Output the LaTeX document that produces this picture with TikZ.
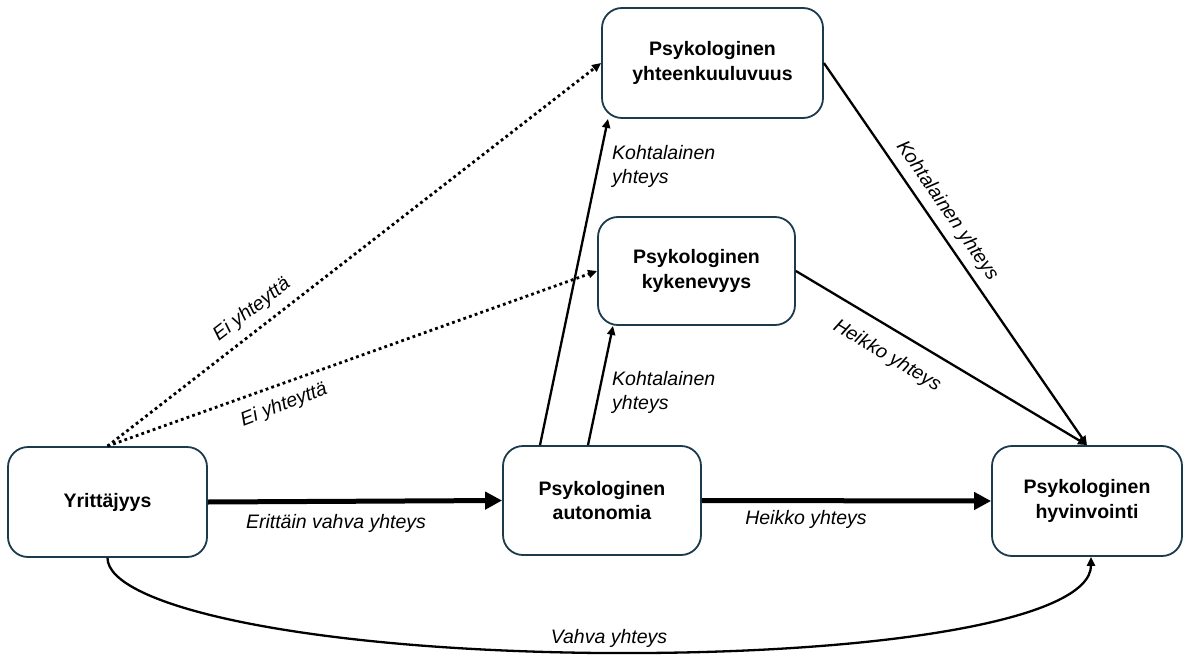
\documentclass[tikz,border=0pt]{standalone}
\usepackage{fontspec}
\setmainfont{Liberation Sans}
\usetikzlibrary{arrows.meta,calc}
\definecolor{boxline}{HTML}{1B3A4B}
\tikzset{
  box/.style={draw=boxline, line width=1.8pt, rounded corners=20pt, fill=white,
    align=center, inner sep=0pt, font=\fontsize{19.5}{24.5}\selectfont\bfseries},
  thickarrow/.style={line width=5pt, -{Triangle[length=17pt,width=17pt]}},
  thinarrow/.style={line width=2.3pt, -{Triangle[length=9pt,width=8pt]}},
  dotarrow/.style={line width=2.8pt, dash pattern=on 2.8pt off 3.2pt, -{Triangle[length=9pt,width=8pt]}},
  lbl/.style={font=\fontsize{19.5}{24}\selectfont\itshape, inner sep=0pt, align=left}
}
\begin{document}
\begin{tikzpicture}[x=1pt,y=-1pt]
\useasboundingbox (0,0) rectangle (1185,655);
% nodes
\node[box, minimum width=199pt, minimum height=110pt] (Y) at (107.5,502) {Yrittäjyys};
\node[box, minimum width=198pt, minimum height=109pt] (A) at (602,500.5) {Psykologinen\\autonomia};
\node[box, minimum width=190pt, minimum height=110pt] (H) at (1087,501) {Psykologinen\\hyvinvointi};
\node[box, minimum width=221pt, minimum height=110pt] (YK) at (712.5,63) {Psykologinen\\yhteenkuuluvuus};
\node[box, minimum width=197pt, minimum height=108pt] (K) at (696.5,271) {Psykologinen\\kykenevyys};
% connectors
\draw[thickarrow] (Y.east) -- (A.west);
\draw[thickarrow] (A.east) -- (H.west);
\draw[thinarrow] ([xshift=-62pt]A.north) -- ([xshift=-104.5pt]YK.south);
\draw[thinarrow] ([xshift=-14pt]A.north) -- ([xshift=-83.5pt]K.south);
\draw[dotarrow] (Y.north) -- (YK.west);
\draw[dotarrow] (Y.north) -- (K.west);
\draw[thinarrow] (YK.east) -- (H.north);
\draw[thinarrow] (K.east) -- (H.north);
\draw[thinarrow] (Y.south) .. controls (107.5,605) and (300,650) .. (600,653)
  .. controls (880,655) and (1091,620) .. ([xshift=4pt]H.south);
% labels
\node[lbl] (l1) at (336,523) {Erittäin vahva yhteys};
\node[lbl] (l2) at (806,519) {Heikko yhteys};
\node[lbl, anchor=west] (l3) at (612,166) {Kohtalainen\\yhteys};
\node[lbl, anchor=west] (l4) at (612,392) {Kohtalainen\\yhteys};
\node[lbl, rotate=37.5] (l5) at (252,310) {Ei yhteyttä};
\node[lbl, rotate=21] (l6) at (284,405) {Ei yhteyttä};
\node[lbl, rotate=-55.4] (l7) at (947,211) {Kohtalainen yhteys};
\node[lbl, rotate=-31] (l8) at (887,356) {Heikko yhteys};
\node[lbl] (l9) at (609,638) {Vahva yhteys};
\end{tikzpicture}
\end{document}
